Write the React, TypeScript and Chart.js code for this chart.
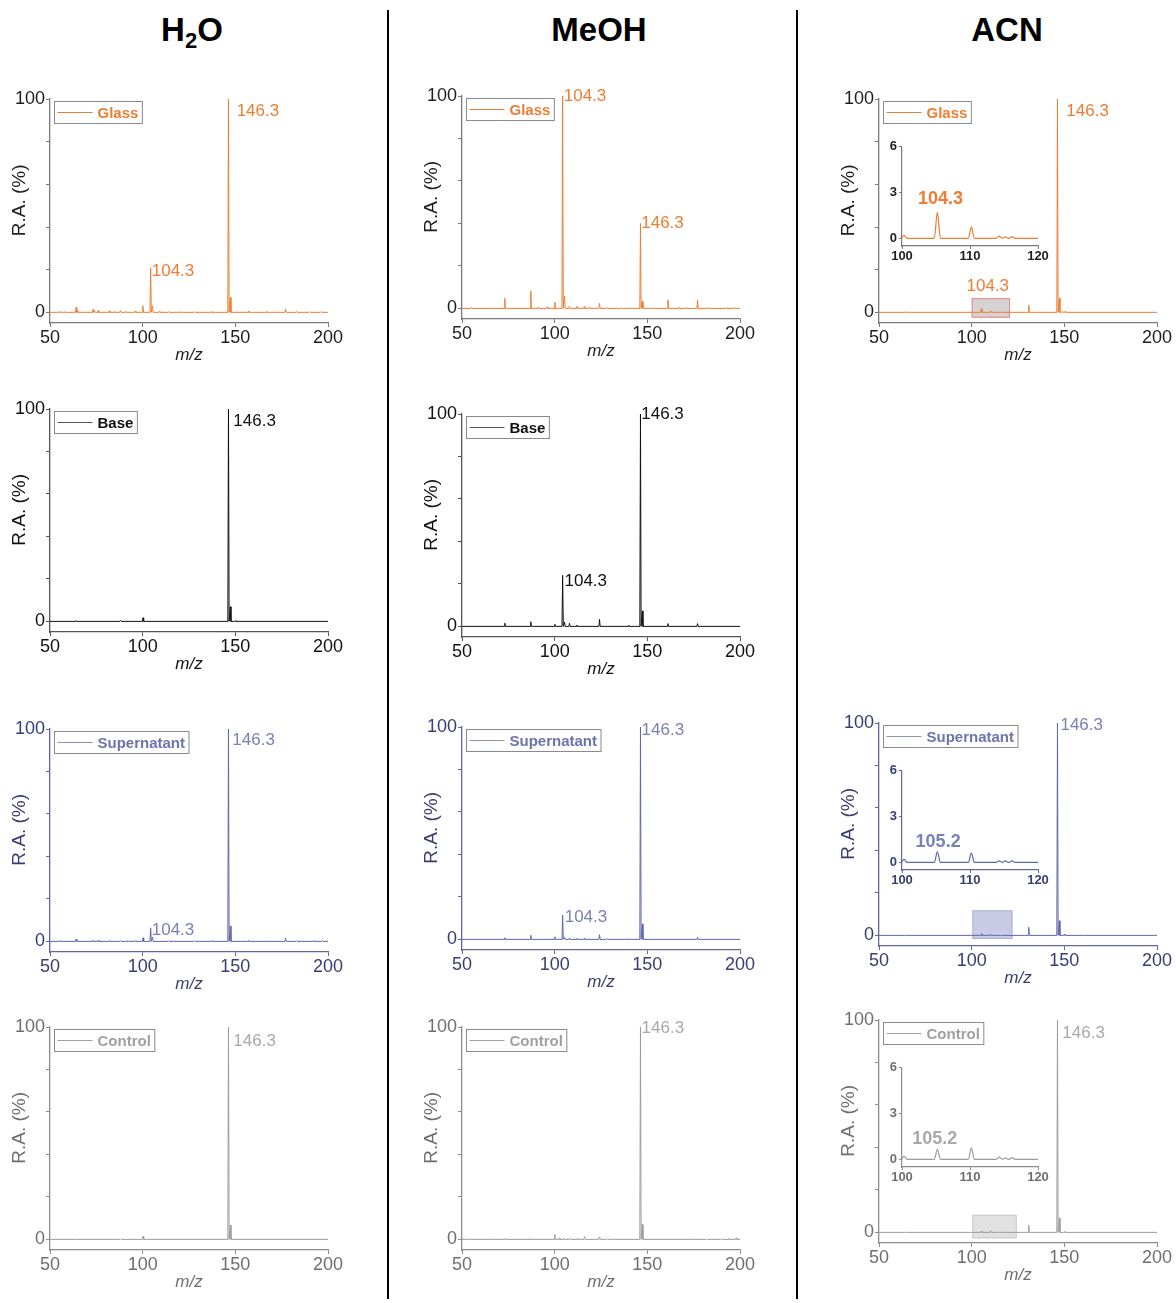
import React, { useEffect, useRef } from 'react';
import { Chart, registerables } from 'chart.js';

Chart.register(...registerables);

const FONT = '"Liberation Sans", Arial, Helvetica, sans-serif';

// ---------------- data ----------------
const solventTitles = ['H2O', 'MeOH', 'ACN'];
const xTickValues = [50, 100, 150, 200];
const yTickValues = [0, 20, 40, 60, 80, 100];
const yTickLabelled = [0, 100];
const insetXTickValues = [100, 110, 120];
const insetYTickValues = [0, 3, 6];
const xTitle = 'm/z';
const yTitle = 'R.A. (%)';

// H2O
const h2oGlassMz = [55, 58, 64.1, 65, 73.1, 74, 76, 82, 85, 88, 91, 96, 100.1, 104.3, 105.3, 109, 114, 120, 128, 137, 146.3, 147.3, 157, 167, 177.1, 183, 190, 196];
const h2oGlassRa = [0.3, 0.3, 2.3, 0.8, 1.5, 1.0, 0.8, 0.7, 0.4, 0.8, 0.4, 0.5, 3.0, 20.8, 3.0, 0.4, 0.3, 0.3, 0.3, 0.3, 100, 7.0, 0.5, 0.4, 1.5, 0.4, 0.3, 0.3];
const h2oBaseMz = [64, 88, 100.2, 146.3, 147.3, 150];
const h2oBaseRa = [0.4, 0.4, 1.7, 100, 6.9, 0.3];
const h2oSuperMz = [55, 64.1, 73.1, 76, 82, 88, 92, 96, 100.2, 104.3, 105.3, 114, 128, 137, 146.3, 147.3, 157, 167, 177.1, 183, 192, 197];
const h2oSuperRa = [0.3, 1.0, 0.6, 0.5, 0.3, 0.4, 0.3, 0.3, 1.7, 6.4, 2.0, 0.3, 0.3, 0.3, 100, 7.2, 0.3, 0.3, 1.4, 0.3, 0.3, 0.4];
const h2oControlMz = [64, 88, 100.2, 146.3, 147.3];
const h2oControlRa = [0.3, 0.3, 1.5, 100, 6.7];

// MeOH
const meohGlassMz = [55.1, 64, 73.1, 87.1, 91, 96, 100.1, 104.3, 105.3, 108, 112, 116, 119, 124.2, 128, 136, 140, 146.3, 147.3, 153, 161.1, 167, 171, 177.1, 183, 193, 197];
const meohGlassRa = [0.5, 0.3, 4.7, 8.3, 0.5, 0.7, 3.0, 100, 5.8, 1.0, 1.0, 0.8, 0.5, 2.3, 0.5, 0.3, 0.3, 40, 3.4, 0.3, 4.0, 0.5, 0.3, 4.0, 0.4, 0.3, 0.4];
const meohBaseMz = [73.1, 87.1, 100.1, 104.3, 105.3, 108, 112, 124.2, 140, 146.3, 147.3, 161.1, 177.1];
const meohBaseRa = [1.5, 2.2, 1.0, 24, 2.0, 1.5, 0.6, 3.3, 0.5, 100, 7.3, 1.3, 1.3];
const meohSuperMz = [73.1, 87.1, 100.1, 104.3, 105.3, 108, 112, 116, 124.2, 128, 140, 146.3, 147.3, 177.1];
const meohSuperRa = [0.8, 1.9, 1.2, 11.4, 1.0, 0.7, 0.5, 0.4, 2.2, 0.4, 0.3, 100, 7.3, 1.0];
const meohControlMz = [55, 65, 73.1, 87.1, 100.1, 102.5, 105, 108.5, 112.5, 116.1, 124.2, 128, 132, 146.3, 147.3, 175, 182, 190, 194, 198];
const meohControlRa = [0.2, 0.3, 0.4, 0.4, 2.3, 0.7, 0.5, 0.5, 0.5, 1.3, 1.2, 0.4, 0.3, 100, 7.0, 0.3, 0.3, 0.3, 0.5, 0.7];

// ACN
const acnGlassMz = [64, 100.3, 105.2, 110.2, 114.3, 115.2, 116.2, 130.8, 146.3, 147.3, 149, 150.5];
const acnGlassRa = [0.3, 0.2, 1.7, 0.75, 0.15, 0.1, 0.12, 3.4, 100, 6.6, 0.5, 0.4];
const acnSuperMz = [64, 100.3, 105.2, 110.2, 114.3, 115.2, 116.2, 130.8, 146.3, 147.3, 150, 160];
const acnSuperRa = [0.2, 0.2, 0.69, 0.6, 0.1, 0.1, 0.1, 3.8, 100, 6.9, 0.5, 0.2];
const acnControlMz = [64, 100.3, 105.2, 110.2, 114.3, 115.2, 116.2, 130.8, 146.3, 147.3, 150];
const acnControlRa = [0.2, 0.2, 0.65, 0.75, 0.15, 0.1, 0.12, 3.5, 100, 6.8, 0.4];

// ---------------- styles ----------------
const STYLES: Record<string, any> = {
  Glass: { line: '#ED7D31', label: '#ED7D31', tick: '#1e1e1e', axis: '#7a7a7a', legendText: '#ED7D31', legendLine: '#ED7D31', boxFill: 'rgba(205,200,200,0.8)', boxStroke: '#e58585' },
  Base: { line: '#111111', label: '#111111', tick: '#111111', axis: '#555555', legendText: '#111111', legendLine: '#555555' },
  Supernatant: { line: '#5E67A8', label: '#7981B5', tick: '#383D73', axis: '#5F66A2', legendText: '#6D74AD', legendLine: '#8A90C4', boxFill: 'rgba(190,193,226,0.85)', boxStroke: '#adb0d8' },
  Control: { line: '#9C9C9C', label: '#A9A9A9', tick: '#6F6F6F', axis: '#8C8C8C', legendText: '#A0A0A0', legendLine: '#A0A0A0', boxFill: 'rgba(222,222,222,0.9)', boxStroke: '#c8c8c8' },
};

const Y_MIN = -5, Y_MAX = 100;
const IY_MIN = -0.5, IY_MAX = 6;
const Y_TITLE_AT = 52.5;
const AXW = 50, PADT = 12, XAH = 44, PADR = 22;
const I_AXW = 28, I_PADT = 9, I_XAH = 20, I_PADR = 14;

const PANELS: any[] = [
  { key: 'h2oGlass', sample: 'Glass', L: 50, R: 328, T: 99, Y0: 312.3, mz: h2oGlassMz, ra: h2oGlassRa,
    labels: [{ text: '104.3', x: 104.9, y: 19.4 }, { text: '146.3', x: 150.7, y: 94.4 }] },
  { key: 'meohGlass', sample: 'Glass', L: 462, R: 740, T: 95.7, Y0: 308.3, mz: meohGlassMz, ra: meohGlassRa,
    labels: [{ text: '104.3', x: 104.9, y: 100 }, { text: '146.3', x: 146.7, y: 40 }] },
  { key: 'acnGlass', sample: 'Glass', L: 879, R: 1157, T: 99, Y0: 312.3, mz: acnGlassMz, ra: acnGlassRa,
    labels: [{ text: '146.3', x: 151.1, y: 94.4 }, { text: '104.3', x: 97.2, y: 12 }],
    box: { x0: 100, x1: 120.7, y0: -2.5, y1: 6.6 },
    inset: { labels: [{ text: '104.3', x: 102.35, y: 2.55 }] } },
  { key: 'h2oBase', sample: 'Base', L: 50, R: 328, T: 409.3, Y0: 622, mz: h2oBaseMz, ra: h2oBaseRa,
    labels: [{ text: '146.3', x: 148.9, y: 94.4 }] },
  { key: 'meohBase', sample: 'Base', L: 462, R: 740, T: 414, Y0: 626.3, mz: meohBaseMz, ra: meohBaseRa,
    labels: [{ text: '104.3', x: 105.3, y: 21 }, { text: '146.3', x: 146.7, y: 100 }] },
  { key: 'h2oSuper', sample: 'Supernatant', L: 50, R: 328, T: 729.3, Y0: 942, mz: h2oSuperMz, ra: h2oSuperRa,
    labels: [{ text: '104.3', x: 104.9, y: 5.2 }, { text: '146.3', x: 148.4, y: 94.8 }] },
  { key: 'meohSuper', sample: 'Supernatant', L: 462, R: 740, T: 726.7, Y0: 939.3, mz: meohSuperMz, ra: meohSuperRa,
    labels: [{ text: '104.3', x: 105.4, y: 10.2 }, { text: '146.3', x: 146.9, y: 98.4 }] },
  { key: 'acnSuper', sample: 'Supernatant', L: 879, R: 1157, T: 723.3, Y0: 935.7, mz: acnSuperMz, ra: acnSuperRa,
    labels: [{ text: '146.3', x: 147.9, y: 99.1 }],
    box: { x0: 100.4, x1: 122, y0: -1.7, y1: 11.8 },
    inset: { labels: [{ text: '105.2', x: 102.0, y: 1.3 }] } },
  { key: 'h2oControl', sample: 'Control', L: 50, R: 328, T: 1027.3, Y0: 1240, mz: h2oControlMz, ra: h2oControlRa,
    labels: [{ text: '146.3', x: 148.9, y: 93.2 }] },
  { key: 'meohControl', sample: 'Control', L: 462, R: 740, T: 1027.3, Y0: 1240, mz: meohControlMz, ra: meohControlRa,
    labels: [{ text: '146.3', x: 146.9, y: 99.2 }] },
  { key: 'acnControl', sample: 'Control', L: 879, R: 1157, T: 1020, Y0: 1232.7, mz: acnControlMz, ra: acnControlRa,
    labels: [{ text: '146.3', x: 148.9, y: 93.8 }],
    box: { x0: 100.4, x1: 124.3, y0: -2.8, y1: 8.3 },
    inset: { labels: [{ text: '105.2', x: 101.5, y: 1.3 }] } },
];

const TITLE_X = [192, 599, 1007];
const SEPARATOR_X = [388, 797];

// ---------------- helpers ----------------
function buildProfile(mz: number[], ra: number[], hw: number, xmin: number, xmax: number) {
  const pts: { x: number; y: number }[] = [{ x: xmin, y: 0 }];
  mz.forEach((m, i) => {
    if (m < xmin - 1 || m > xmax + 1) return;
    pts.push({ x: m - hw, y: 0 }, { x: m, y: ra[i] }, { x: m + hw, y: 0 });
  });
  pts.push({ x: xmax, y: 0 });
  return pts;
}

function mainGeom(p: any) {
  const L = Math.round(p.L), T = Math.round(p.T);
  const areaW = Math.round(p.R - p.L);
  const areaH = Math.round((p.Y0 - p.T) * (Y_MAX - Y_MIN) / Y_MAX);
  return { left: L - AXW, top: T - PADT, w: AXW + areaW + PADR, h: PADT + areaH + XAH };
}

function insetGeom(p: any) {
  const IL = Math.round(p.L + 23), IT = Math.round(p.T + 46.7);
  const areaW = 136;
  const areaH = Math.round(92.6 * (IY_MAX - IY_MIN) / IY_MAX);
  return { left: IL - I_AXW, top: IT - I_PADT, w: I_AXW + areaW + I_PADR, h: I_PADT + areaH + I_XAH };
}

function makeOverlay(p: any, st: any, inset: boolean) {
  return {
    id: 'overlay',
    beforeDatasetsDraw(chart: any) {
      if (inset || !p.box) return;
      const { ctx, scales } = chart;
      const x = scales.x, y = scales.y;
      const x0 = x.getPixelForValue(p.box.x0), x1 = x.getPixelForValue(p.box.x1);
      const yt = y.getPixelForValue(p.box.y1), yb = y.getPixelForValue(p.box.y0);
      ctx.save();
      ctx.fillStyle = st.boxFill;
      ctx.fillRect(x0, yt, x1 - x0, yb - yt);
      ctx.strokeStyle = st.boxStroke;
      ctx.lineWidth = 1;
      ctx.strokeRect(x0 + 0.5, yt + 0.5, x1 - x0 - 1, yb - yt - 1);
      ctx.restore();
    },
    afterDraw(chart: any) {
      const { ctx, scales, chartArea } = chart;
      const x = scales.x, y = scales.y;
      ctx.save();
      const labels = inset ? p.inset.labels : p.labels;
      ctx.font = inset ? `bold 18px ${FONT}` : `17px ${FONT}`;
      ctx.fillStyle = st.label;
      ctx.textAlign = 'left';
      ctx.textBaseline = 'middle';
      labels.forEach((l: any) => {
        ctx.fillText(l.text, x.getPixelForValue(l.x), y.getPixelForValue(l.y));
      });
      if (!inset) {
        // legend box
        const x0 = Math.round(chartArea.left + 4) + 0.5, y0 = Math.round(chartArea.top + 2) + 0.5;
        ctx.font = `bold 15px ${FONT}`;
        const tw = ctx.measureText(p.sample).width;
        const w = 43 + tw + 4, h = 22;
        ctx.strokeStyle = '#8a8a8a';
        ctx.lineWidth = 1;
        ctx.strokeRect(x0, y0, w, h);
        ctx.strokeStyle = st.legendLine;
        ctx.beginPath();
        ctx.moveTo(x0 + 3, y0 + h / 2);
        ctx.lineTo(x0 + 38, y0 + h / 2);
        ctx.stroke();
        ctx.fillStyle = st.legendText;
        ctx.fillText(p.sample, x0 + 43, y0 + h / 2 + 1);
        // y axis title
        ctx.save();
        ctx.translate(chartArea.left - 30, y.getPixelForValue(Y_TITLE_AT));
        ctx.rotate(-Math.PI / 2);
        ctx.font = `19px ${FONT}`;
        ctx.fillStyle = st.tick;
        ctx.textAlign = 'center';
        ctx.textBaseline = 'middle';
        ctx.fillText(yTitle, 0, 0);
        ctx.restore();
      }
      ctx.restore();
    },
  };
}

function mainConfig(p: any): any {
  const st = STYLES[p.sample];
  return {
    type: 'line',
    data: {
      datasets: [{
        data: buildProfile(p.mz, p.ra, 0.35, 50, 200),
        borderColor: st.line, borderWidth: 1, pointRadius: 0, tension: 0, fill: false,
      }],
    },
    options: {
      animation: false, responsive: false, events: [],
      layout: { padding: { left: 0, top: PADT, right: PADR, bottom: 0 } },
      plugins: { legend: { display: false }, tooltip: { enabled: false } },
      scales: {
        x: {
          type: 'linear', min: 50, max: 200,
          afterBuildTicks: (s: any) => { s.ticks = xTickValues.map((v) => ({ value: v })); },
          afterFit: (s: any) => { s.height = XAH; },
          ticks: { autoSkip: false, maxRotation: 0, padding: 0, color: st.tick, font: { family: FONT, size: 18 } },
          grid: { drawOnChartArea: false, tickLength: 4, color: st.axis },
          border: { color: st.axis, width: 1.3 },
          title: { display: true, text: xTitle, color: st.tick, font: { family: FONT, size: 17, style: 'italic' }, padding: { top: 0, bottom: 2 } },
        },
        y: {
          type: 'linear', min: Y_MIN, max: Y_MAX,
          afterBuildTicks: (s: any) => { s.ticks = yTickValues.map((v) => ({ value: v })); },
          afterFit: (s: any) => { s.width = AXW; },
          ticks: {
            autoSkip: false, padding: 1, color: st.tick, font: { family: FONT, size: 18 },
            callback: (v: any) => (yTickLabelled.includes(Number(v)) ? String(v) : ''),
          },
          grid: { drawOnChartArea: false, tickLength: 4, color: st.axis },
          border: { color: st.axis, width: 1.3 },
          title: { display: false },
        },
      },
    },
    plugins: [makeOverlay(p, st, false)],
  };
}

function insetConfig(p: any): any {
  const st = STYLES[p.sample];
  return {
    type: 'line',
    data: {
      datasets: [{
        data: buildProfile(p.mz, p.ra, 0.45, 100, 120),
        borderColor: st.line, borderWidth: 1.2, pointRadius: 0, cubicInterpolationMode: 'monotone', fill: false,
      }],
    },
    options: {
      animation: false, responsive: false, events: [],
      layout: { padding: { left: 0, top: I_PADT, right: I_PADR, bottom: 0 } },
      plugins: { legend: { display: false }, tooltip: { enabled: false } },
      scales: {
        x: {
          type: 'linear', min: 100, max: 120,
          afterBuildTicks: (s: any) => { s.ticks = insetXTickValues.map((v) => ({ value: v })); },
          afterFit: (s: any) => { s.height = I_XAH; },
          ticks: { autoSkip: false, maxRotation: 0, padding: 0, color: st.tick, font: { family: FONT, size: 13, weight: 'bold' } },
          grid: { drawOnChartArea: false, tickLength: 3, color: st.axis },
          border: { color: st.axis, width: 1.2 },
        },
        y: {
          type: 'linear', min: IY_MIN, max: IY_MAX,
          afterBuildTicks: (s: any) => { s.ticks = insetYTickValues.map((v) => ({ value: v })); },
          afterFit: (s: any) => { s.width = I_AXW; },
          ticks: { autoSkip: false, padding: 2, color: st.tick, font: { family: FONT, size: 13, weight: 'bold' } },
          grid: { drawOnChartArea: false, tickLength: 3, color: st.axis },
          border: { color: st.axis, width: 1.2 },
        },
      },
    },
    plugins: [makeOverlay(p, st, true)],
  };
}

function Panel({ p }: { p: any }) {
  const mainRef = useRef<HTMLCanvasElement>(null);
  const insetRef = useRef<HTMLCanvasElement>(null);
  useEffect(() => {
    const charts: Chart[] = [];
    if (mainRef.current) charts.push(new Chart(mainRef.current, mainConfig(p)));
    if (p.inset && insetRef.current) charts.push(new Chart(insetRef.current, insetConfig(p)));
    return () => charts.forEach((c) => c.destroy());
  }, [p]);
  const g = mainGeom(p);
  const ig = p.inset ? insetGeom(p) : null;
  return (
    <>
      <canvas ref={mainRef} width={g.w} height={g.h}
        style={{ position: 'absolute', left: g.left, top: g.top, width: g.w, height: g.h }} />
      {ig && (
        <canvas ref={insetRef} width={ig.w} height={ig.h}
          style={{ position: 'absolute', left: ig.left, top: ig.top, width: ig.w, height: ig.h }} />
      )}
    </>
  );
}

function Title({ text, cx }: { text: string; cx: number }) {
  const parts = text.split(/(\d)/).filter((s) => s.length > 0);
  return (
    <div style={{ position: 'absolute', left: cx - 100, top: 10, width: 200, textAlign: 'center', fontWeight: 700, fontSize: 33, lineHeight: '40px', color: '#000' }}>
      {parts.map((s, i) => (/\d/.test(s)
        ? <sub key={i} style={{ fontSize: 22, verticalAlign: '-7px', lineHeight: 0 }}>{s}</sub>
        : <span key={i}>{s}</span>))}
    </div>
  );
}

export default function App() {
  return (
    <div style={{ position: 'absolute', left: 0, top: 0, width: 1176, height: 1303, background: '#fff', overflow: 'hidden', fontFamily: FONT }}>
      {solventTitles.map((t, i) => <Title key={t} text={t} cx={TITLE_X[i]} />)}
      {SEPARATOR_X.map((x) => (
        <div key={x} style={{ position: 'absolute', left: x - 0.75, top: 10, width: 1.5, height: 1289, background: '#000' }} />
      ))}
      {PANELS.map((p) => <Panel key={p.key} p={p} />)}
    </div>
  );
}
